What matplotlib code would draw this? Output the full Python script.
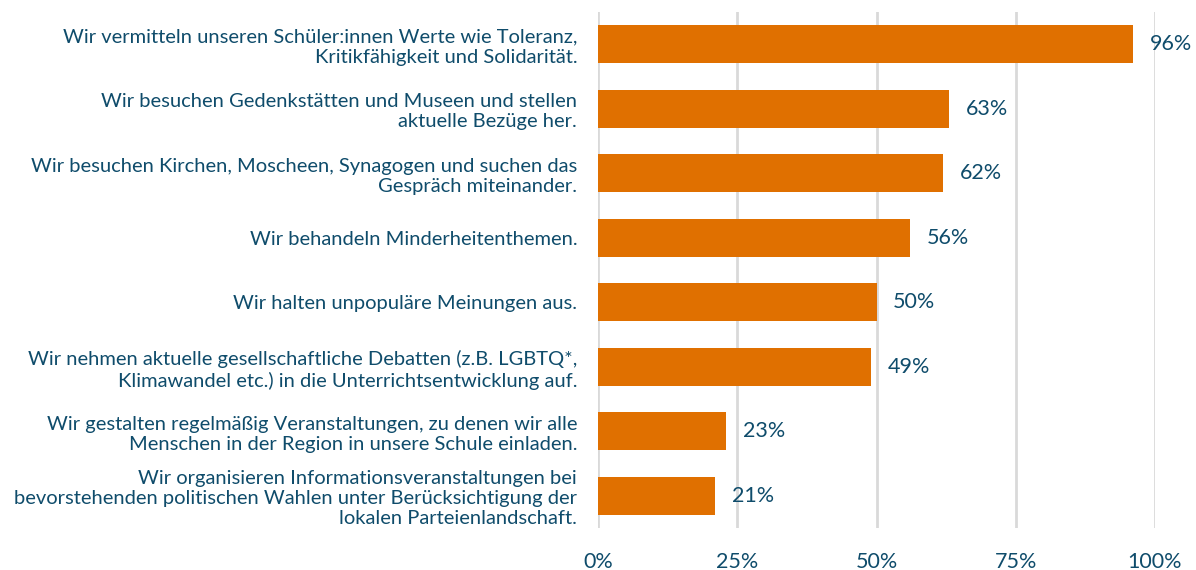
import matplotlib
matplotlib.use("Agg")
import matplotlib.pyplot as plt
from matplotlib.ticker import FuncFormatter

categories = [
    "Wir vermitteln unseren Schüler:innen Werte wie Toleranz,\nKritikfähigkeit und Solidarität.",
    "Wir besuchen Gedenkstätten und Museen und stellen\naktuelle Bezüge her.",
    "Wir besuchen Kirchen, Moscheen, Synagogen und suchen das\nGespräch miteinander.",
    "Wir behandeln Minderheitenthemen.",
    "Wir halten unpopuläre Meinungen aus.",
    "Wir nehmen aktuelle gesellschaftliche Debatten (z.B. LGBTQ*,\nKlimawandel etc.) in die Unterrichtsentwicklung auf.",
    "Wir gestalten regelmäßig Veranstaltungen, zu denen wir alle\nMenschen in der Region in unsere Schule einladen.",
    "Wir organisieren Informationsveranstaltungen bei\nbevorstehenden politischen Wahlen unter Berücksichtigung der\nlokalen Parteienlandschaft.",
]
values = [96, 63, 62, 56, 50, 49, 23, 21]
xticks = [0, 25, 50, 75, 100]

TEXT = "#0f4c6b"
BAR = "#e07000"
GRID = "#d9d9d9"
FONT = ["Lato", "DejaVu Sans"]
plt.rcParams["font.family"] = FONT

W, H = 1196, 570
fig = plt.figure(figsize=(W / 100, H / 100), dpi=100)
ax = fig.add_axes([598 / W, 1 - 528 / H, (1155 - 598) / W, (528 - 12) / H])

y = list(range(len(values)))
ax.barh(y, values, height=0.59, color=BAR, zorder=3)
ax.set_ylim(len(values) - 0.5, -0.5)
ax.set_xlim(0, 100)

for s in ax.spines.values():
    s.set_visible(False)
ax.set_xticks(xticks)
ax.xaxis.set_major_formatter(FuncFormatter(lambda v, p: f"{v:.0f}%"))
ax.grid(axis="x", color=GRID, linewidth=2, zorder=0)
ax.tick_params(axis="x", length=0, pad=17, labelsize=15.5, labelcolor=TEXT)
ax.set_yticks(y)
ax.set_yticklabels(categories, fontsize=14.5, color=TEXT, linespacing=1.22)
ax.tick_params(axis="y", length=0, pad=15)

for yi, v in zip(y, values):
    ax.annotate(f"{v}%", (v, yi), xytext=(12, 0), textcoords="offset points",
                va="center", ha="left", fontsize=15.5, color=TEXT)

fig.savefig("out.png", dpi=100)
